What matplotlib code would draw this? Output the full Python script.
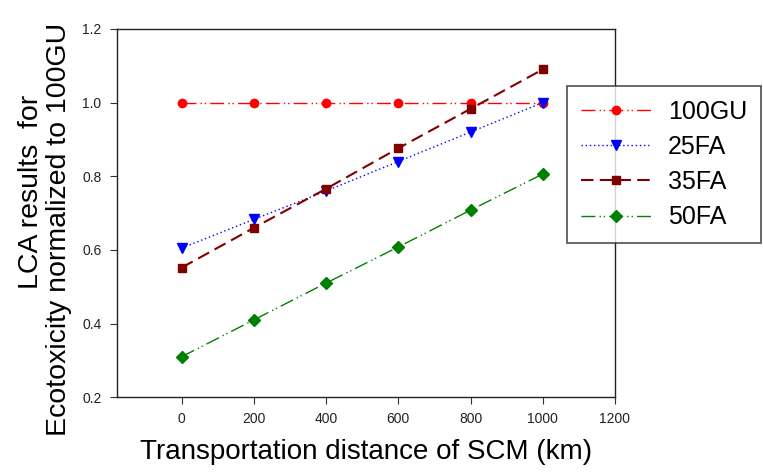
import matplotlib
matplotlib.use("Agg")
import matplotlib.pyplot as plt

plt.rcParams['font.family'] = ['Liberation Sans', 'DejaVu Sans']

distance = [0, 200, 400, 600, 800, 1000]
gu100 = [1.0, 1.0, 1.0, 1.0, 1.0, 1.0]
fa25 = [0.605, 0.683, 0.76, 0.84, 0.92, 1.0]
fa35 = [0.552, 0.66, 0.766, 0.876, 0.983, 1.09]
fa50 = [0.31, 0.41, 0.51, 0.608, 0.708, 0.806]
labels = ['100GU', '25FA', '35FA', '50FA']
xticks = [0, 200, 400, 600, 800, 1000, 1200]
yticks = [0.2, 0.4, 0.6, 0.8, 1.0, 1.2]

fig = plt.figure(figsize=(7.63, 4.74), dpi=100)
ax = fig.add_axes([0.153, 0.162, 0.653, 0.777])

ax.plot(distance, gu100, color='#ff0000', linestyle=(0, (10, 3, 1, 2, 1, 3)), lw=1.0,
        marker='o', ms=6, label=labels[0])
ax.plot(distance, fa25, color='#0000ff', linestyle=(0, (1, 2)), lw=1.0,
        marker='v', ms=6.5, label=labels[1])
ax.plot(distance, fa35, color='#800000', linestyle=(0, (6, 3)), lw=1.5,
        marker='s', ms=5.5, label=labels[2])
ax.plot(distance, fa50, color='#008000', linestyle=(0, (10, 3, 1, 2, 1, 3)), lw=1.0,
        marker='D', ms=6, label=labels[3])

ax.set_xlim(-180, 1200)
ax.set_ylim(0.2, 1.2)
ax.set_xticks(xticks)
ax.set_yticks(yticks)
ax.set_yticklabels([f"{v:.1f}" for v in yticks])
ax.tick_params(direction='out', length=5, labelsize=10, pad=6, colors='#333333', labelcolor='#222222')
for s in ax.spines.values():
    s.set_linewidth(1.0)
    s.set_color('#222222')

ax.set_xlabel('Transportation distance of SCM (km)', fontsize=20, labelpad=9)

fig.text(31 / 763, 1 - 192 / 474, 'LCA results  for', rotation=90, fontsize=20.5,
         ha='center', va='center')
fig.text(59 / 763, 1 - 229 / 474, 'Ecotoxicity normalized to 100GU', rotation=90, fontsize=20.5,
         ha='center', va='center')

leg = fig.legend(loc='upper left', bbox_to_anchor=(0.743, 0.819), fontsize=18,
                 frameon=True, fancybox=False, edgecolor='#222222', handlelength=2.8,
                 borderpad=0.55, labelspacing=0.45, handletextpad=0.7, borderaxespad=0)
leg.get_frame().set_linewidth(1.2)

fig.savefig('out.png', dpi=100)
